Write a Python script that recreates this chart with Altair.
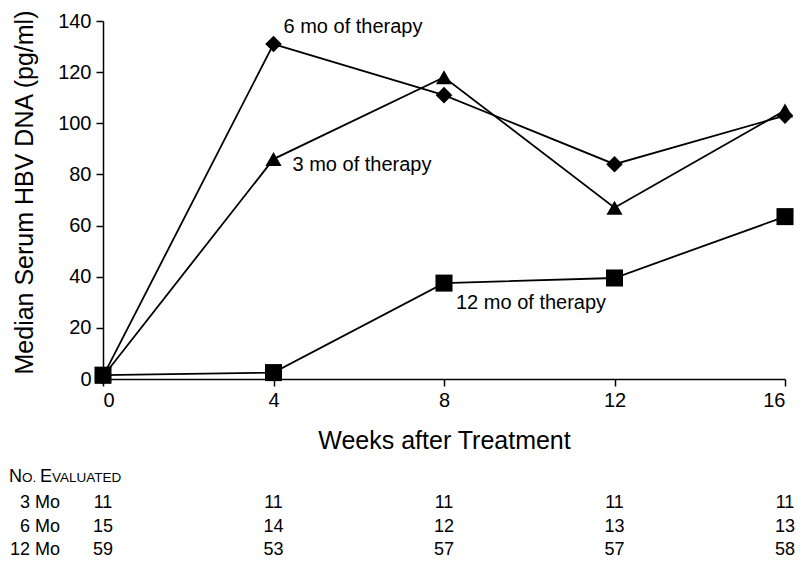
import altair as alt
import pandas as pd

# ---- data ----
weeks = [0, 4, 8, 12, 16]
series_names = ["3 mo", "6 mo", "12 mo"]
hbv_3mo = [1.0, 86.0, 118.0, 67.0, 105.0]
hbv_6mo = [1.0, 131.0, 111.0, 84.0, 103.0]
hbv_12mo = [1.5, 2.5, 37.5, 39.5, 63.5]

row_labels = ["3 Mo", "6 Mo", "12 Mo"]
n_3mo = [11, 11, 11, 11, 11]
n_6mo = [15, 14, 12, 13, 13]
n_12mo = [59, 53, 57, 57, 58]

annot_text = ["6 mo of therapy", "3 mo of therapy", "12 mo of therapy"]
annot_week = [4, 4, 8]
annot_value = [131.0, 86.0, 37.5]

FONT = "Liberation Sans"
W, H = 682, 358

# ---- tables ----
rows = []
for name, vals in zip(series_names, [hbv_3mo, hbv_6mo, hbv_12mo]):
    for w, v in zip(weeks, vals):
        rows.append({"series": name, "week": w, "value": v})
df = pd.DataFrame(rows)

x_enc = alt.X(
    "week:Q",
    scale=alt.Scale(domain=[0, 16], nice=False, zero=False),
    axis=alt.Axis(
        values=weeks, title="Weeks after Treatment", format="d",
        tickSize=7, labelPadding=4, labelFontSize=20,
        titleFontSize=25, titleFontWeight="normal",
        titleX=W / 2, titleY=61, titleBaseline="middle",
        domainWidth=1.5, tickWidth=1.5,
    ),
)
y_enc = alt.Y(
    "value:Q",
    scale=alt.Scale(domain=[0, 140], nice=False),
    axis=alt.Axis(
        values=[0, 20, 40, 60, 80, 100, 120, 140],
        title="Median Serum HBV DNA (pg/ml)",
        tickSize=7, labelPadding=5, labelFontSize=20,
        titleFontSize=25, titleFontWeight="normal",
        titleX=-71, titleY=171, titleAngle=270, titleBaseline="alphabetic",
        titleAlign="center",
        domainWidth=1.5, tickWidth=1.5,
    ),
)

lines = alt.Chart(df).mark_line(color="black", strokeWidth=1.8).encode(
    x=x_enc, y=y_enc, detail="series:N"
)

points = alt.Chart(df).mark_point(filled=True, color="black", opacity=1).encode(
    x="week:Q",
    y="value:Q",
    shape=alt.Shape("series:N", scale=alt.Scale(domain=series_names,
                    range=["triangle-up", "diamond", "square"]), legend=None),
    size=alt.Size("series:N", scale=alt.Scale(domain=series_names,
                  range=[260, 290, 220]), legend=None),
)

layers = [lines, points]

# annotations
offsets = [(10, -17), (19, 6), (12, 20)]
for txt, w, v, (dx, dy) in zip(annot_text, annot_week, annot_value, offsets):
    adf = pd.DataFrame({"week": [w], "value": [v], "label": [txt]})
    layers.append(
        alt.Chart(adf).mark_text(align="left", baseline="middle", dx=dx, dy=dy,
                                 font=FONT, fontSize=20, color="black")
        .encode(x="week:Q", y="value:Q", text="label:N")
    )

# No. Evaluated header (small caps)
hdr_parts = [("N", -94, 18), ("O.", -81, 13.5), ("E", -63, 18), ("VALUATED", -51, 13.5)]
for t, xp, fs in hdr_parts:
    hdf = pd.DataFrame({"t": [t]})
    layers.append(
        alt.Chart(hdf).mark_text(align="left", baseline="alphabetic", font=FONT,
                                 fontSize=fs, color="black")
        .encode(x=alt.value(xp), y=alt.value(461), text="t:N")
    )

# table rows
row_y = [482, 506, 529]
for lab, counts, yp in zip(row_labels, [n_3mo, n_6mo, n_12mo], row_y):
    tdf = pd.DataFrame({"week": weeks, "n": counts})
    layers.append(
        alt.Chart(tdf).mark_text(align="center", baseline="middle", font=FONT,
                                 fontSize=18, color="black")
        .encode(x="week:Q", y=alt.value(yp), text="n:Q")
    )
    ldf = pd.DataFrame({"lab": [lab]})
    layers.append(
        alt.Chart(ldf).mark_text(align="right", baseline="middle", font=FONT,
                                 fontSize=18, color="black")
        .encode(x=alt.value(-43), y=alt.value(yp), text="lab:N")
    )

chart = alt.layer(*layers).properties(
    width=W, height=H,
    autosize=alt.AutoSizeParams(type="none"),
    padding={"left": 95, "top": 13, "right": 11, "bottom": 181},
).configure_view(stroke=None).configure_axis(
    grid=False, domainColor="black", tickColor="black",
    labelColor="black", titleColor="black",
    labelFont=FONT, titleFont=FONT,
)

chart.save("out.html", embed_options={"renderer": "svg", "actions": False})
